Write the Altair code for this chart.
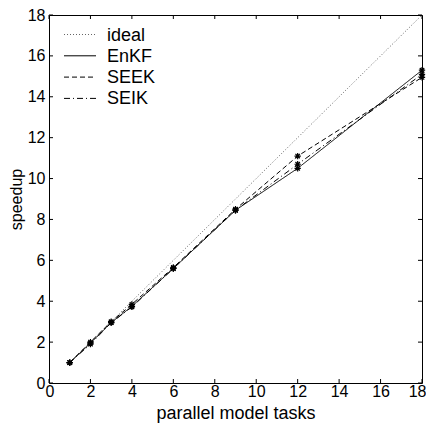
import altair as alt
import pandas as pd

TASKS = [1, 2, 3, 4, 6, 9, 12, 18]
IDEAL_X = [1, 18]
IDEAL_Y = [1, 18]
ENKF = [1.0, 1.95, 2.95, 3.75, 5.6, 8.45, 10.5, 15.3]
SEEK = [1.0, 2.0, 3.0, 3.85, 5.65, 8.5, 11.1, 14.95]
SEIK = [1.0, 1.9, 2.95, 3.72, 5.6, 8.45, 10.7, 15.1]
SERIES = ["ideal", "EnKF", "SEEK", "SEIK"]
COLORS = ["#666666", "black", "black", "black"]
DASHES = [[1, 2], [1, 0], [5, 3], [6, 3, 1, 3]]
XTICKS = list(range(0, 19, 2))
YTICKS = list(range(0, 19, 2))

W, H = 373, 368
FONT = "Liberation Sans"

rows = [{"x": a, "y": b, "series": "ideal"} for a, b in zip(IDEAL_X, IDEAL_Y)]
for name, vals in [("EnKF", ENKF), ("SEEK", SEEK), ("SEIK", SEIK)]:
    rows += [{"x": a, "y": b, "series": name} for a, b in zip(TASKS, vals)]
df = pd.DataFrame(rows)
pts = df[df.series != "ideal"]

xs = alt.Scale(domain=[0, 18], nice=False)
ys = alt.Scale(domain=[0, 18], nice=False)

XAXIS = alt.Axis(values=XTICKS, ticks=False, domain=False, grid=False,
                 labelPadding=0, title="parallel model tasks",
                 titlePadding=5, labelFontSize=16, titleFontSize=18,
                 labelFont=FONT, titleFont=FONT, titleFontWeight="normal",
                 labelColor="black", titleColor="black",
                 labelFlush=True, labelFlushOffset=4)
YAXIS = alt.Axis(values=YTICKS, ticks=False, domain=False, grid=False,
                 labelPadding=4, title="speedup", titlePadding=3,
                 labelFontSize=16, titleFontSize=16,
                 labelFont=FONT, titleFont=FONT, titleFontWeight="normal",
                 labelColor="black", titleColor="black", labelFlush=False)


def X(f):
    return alt.X(f, scale=xs, axis=XAXIS, title="parallel model tasks")


def Y(f):
    return alt.Y(f, scale=ys, axis=YAXIS, title="speedup")


lines = alt.Chart(df).mark_line(strokeWidth=1).encode(
    x=X("x:Q"),
    y=Y("y:Q"),
    color=alt.Color("series:N", scale=alt.Scale(domain=SERIES, range=COLORS), legend=None),
    strokeDash=alt.StrokeDash("series:N", scale=alt.Scale(domain=SERIES, range=DASHES), legend=None),
    detail="series:N",
)

ASTER = "M-1,0L1,0M0,-1L0,1M-0.7,-0.7L0.7,0.7M-0.7,0.7L0.7,-0.7"
points = alt.Chart(pts).mark_point(shape=ASTER, filled=False, size=40, color="black",
                                   strokeWidth=1.2, opacity=1).encode(
    x=X("x:Q"),
    y=Y("y:Q"),
)

xt = pd.DataFrame({"x": XTICKS})
yt = pd.DataFrame({"y": YTICKS})
tick_b = alt.Chart(xt).mark_rule(color="black", strokeWidth=1).encode(
    x=X("x:Q"), y=alt.value(H), y2=alt.value(H - 4))
tick_t = alt.Chart(xt).mark_rule(color="black", strokeWidth=1).encode(
    x=X("x:Q"), y=alt.value(0), y2=alt.value(4))
tick_l = alt.Chart(yt).mark_rule(color="black", strokeWidth=1).encode(
    y=Y("y:Q"), x=alt.value(0), x2=alt.value(4))
tick_r = alt.Chart(yt).mark_rule(color="black", strokeWidth=1).encode(
    y=Y("y:Q"), x=alt.value(W - 4), x2=alt.value(W))

legend_layers = []
for i, (name, col, dash) in enumerate(zip(SERIES, COLORS, DASHES)):
    d = pd.DataFrame({"series": [name]})
    yy = 19.5 + 21.3 * i
    legend_layers.append(alt.Chart(d).mark_rule(color=col, strokeWidth=1, strokeDash=dash).encode(
        x=alt.value(15), x2=alt.value(47), y=alt.value(yy)))
    legend_layers.append(alt.Chart(d).mark_text(align="left", baseline="middle", fontSize=18,
                                                font=FONT, color="black", dy=1).encode(
        x=alt.value(58), y=alt.value(yy), text="series:N"))

chart = alt.layer(lines, points, tick_b, tick_t, tick_l, tick_r, *legend_layers).properties(
    width=W, height=H,
    autosize=alt.AutoSizeParams(type="none"),
    padding={"left": 41, "top": 7, "right": 4, "bottom": 40},
).configure_view(stroke="black", strokeWidth=1)

chart.save("out.html", embed_options={"renderer": "svg", "actions": False})
